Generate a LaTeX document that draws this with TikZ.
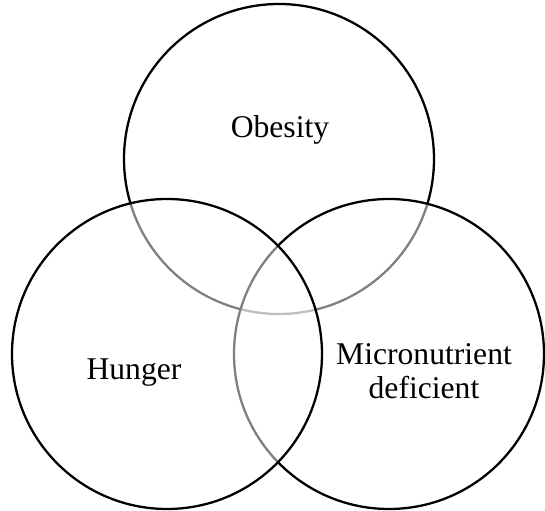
\documentclass[tikz,border=0pt]{standalone}
\usepackage{fontspec}
\setmainfont{Liberation Serif}
\usepackage{tikz}
\usetikzlibrary{positioning}

\begin{document}
\begin{tikzpicture}[
        set/.style={draw=black, line width=1.3pt, fill=white, fill opacity=0.5},
        lbl/.style={font=\fontsize{18}{19.5}\selectfont, align=center, text=black}
    ]
        \useasboundingbox (0,0) rectangle (10.9,10.22);
        % 三つの円の中心
        \coordinate (T) at (5.58,7.04);
        \coordinate (L) at (3.34,3.14);
        \coordinate (R) at (7.78,3.14);
        
        % 描く順番で重なりの濃さが変わる
        \draw[set] (T) circle (3.1);
        \draw[set] (R) circle (3.1);
        \draw[set] (L) circle (3.1);
        
        % ラベル
        \node[lbl] (obesity) at (5.6,7.62) {Obesity};
        \node[lbl] (hunger) at (2.68,2.76) {Hunger};
        \node[lbl] (micro) at (8.48,2.79) {Micronutrient\\deficient};
    \end{tikzpicture}
\end{document}
